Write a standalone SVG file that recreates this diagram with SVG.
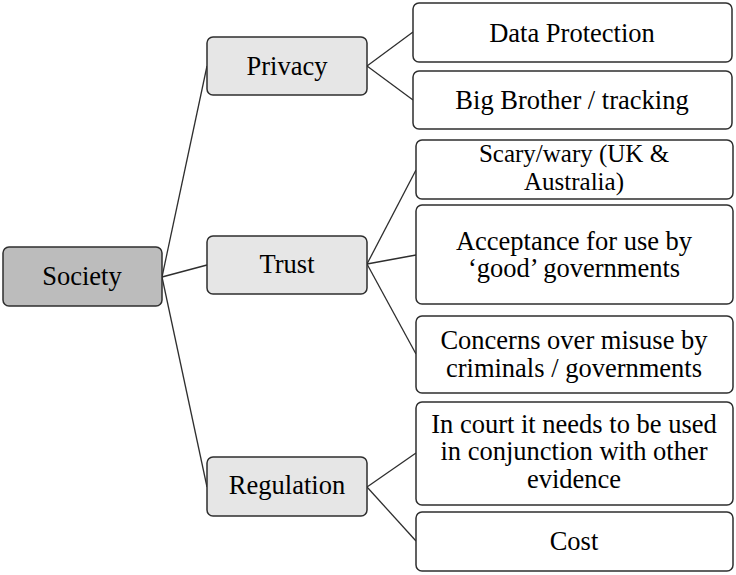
<svg xmlns="http://www.w3.org/2000/svg" width="736" height="575" viewBox="0 0 736 575">
<style>
.box{stroke:#2e2e2e;stroke-width:1.5}
.root{fill:#bcbcbc}
.mid{fill:#e6e6e6}
.leaf{fill:#ffffff}
text{font-family:"Liberation Serif","Times New Roman",serif;font-size:26.5px;fill:#000;text-anchor:middle}
.c line{stroke:#2e2e2e;stroke-width:1.3}
</style>
<rect width="736" height="575" fill="#fff"/>
<g class="c" id="connectors">
<line x1="162" y1="277" x2="207" y2="66"/>
<line x1="162" y1="277" x2="207" y2="265"/>
<line x1="162" y1="277" x2="207" y2="487"/>
<line x1="367" y1="66" x2="413" y2="32"/>
<line x1="367" y1="66" x2="413" y2="100"/>
<line x1="367" y1="264" x2="416" y2="170"/>
<line x1="367" y1="264" x2="416" y2="255"/>
<line x1="367" y1="264" x2="416" y2="354"/>
<line x1="367" y1="487" x2="416" y2="453"/>
<line x1="367" y1="487" x2="416" y2="541"/>
</g>
<g id="society"><rect class="box root" x="3" y="247" width="159" height="59" rx="6"/><text x="82" y="285">Society</text></g>
<g id="privacy"><rect class="box mid" x="207" y="37" width="160" height="58" rx="6"/><text x="287" y="75">Privacy</text></g>
<g id="trust"><rect class="box mid" x="207" y="236" width="160" height="58" rx="6"/><text x="287" y="273">Trust</text></g>
<g id="regulation"><rect class="box mid" x="207" y="457" width="160" height="59" rx="6"/><text x="287" y="494">Regulation</text></g>
<g id="data-protection"><rect class="box leaf" x="413" y="3" width="319" height="59" rx="6"/><text x="572" y="42">Data Protection</text></g>
<g id="big-brother"><rect class="box leaf" x="413" y="71" width="319" height="58" rx="6"/><text x="572" y="109">Big Brother / tracking</text></g>
<g id="scary"><rect class="box leaf" x="416" y="140" width="317" height="59" rx="6"/><text x="574" y="162" style="font-size:25px">Scary/wary (UK &amp;<tspan x="574" dy="28">Australia)</tspan></text></g>
<g id="acceptance"><rect class="box leaf" x="416" y="205" width="317" height="99" rx="6"/><text x="574" y="250">Acceptance for use by<tspan x="574" dy="27">‘good’ governments</tspan></text></g>
<g id="concerns"><rect class="box leaf" x="416" y="316" width="317" height="77" rx="6"/><text x="574" y="349">Concerns over misuse by<tspan x="574" dy="28">criminals / governments</tspan></text></g>
<g id="court"><rect class="box leaf" x="416" y="402" width="317" height="103" rx="6"/><text x="574" y="433">In court it needs to be used<tspan x="574" dy="27">in conjunction with other</tspan><tspan x="574" dy="28">evidence</tspan></text></g>
<g id="cost"><rect class="box leaf" x="416" y="512" width="317" height="59" rx="6"/><text x="574" y="550">Cost</text></g>
</svg>
